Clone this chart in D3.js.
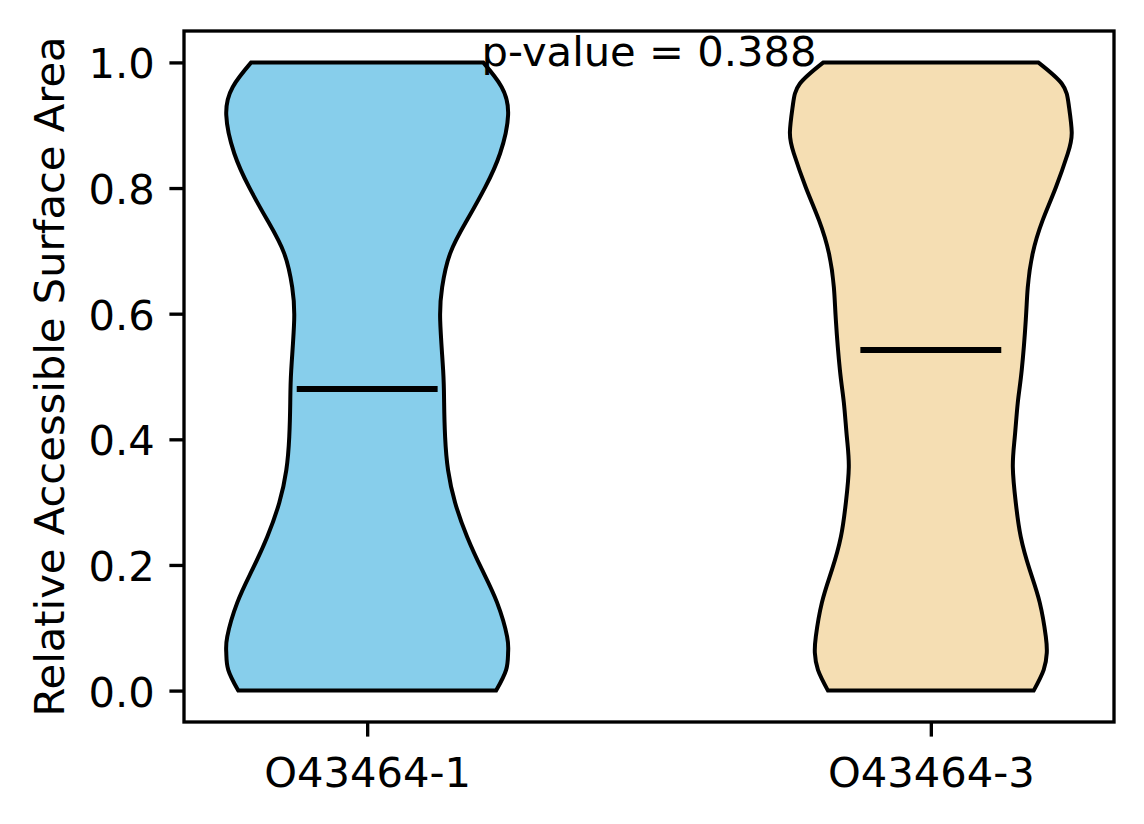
<!DOCTYPE html>
<html>
<head>
<meta charset="utf-8">
<script src="https://cdn.jsdelivr.net/npm/d3@7"></script>
<style>
  html, body { margin: 0; padding: 0; background: #ffffff; }
  svg { display: block; }
  text { font-family: "DejaVu Sans", sans-serif; fill: #000; }
</style>
</head>
<body>
<svg id="chart" width="1144" height="824"></svg>
<script>
// ---- data ----
const categories = ["O43464-1", "O43464-3"];
const positions = [1, 2];
const colors = ["#87CEEB", "#F5DEB3"];
const medians = [0.480, 0.542];
const pValueText = "p-value = 0.388";
const yTicks = [0.0, 0.2, 0.4, 0.6, 0.8, 1.0];
const yLabel = "Relative Accessible Surface Area";

// violin profiles: value along y, relative density (1 = widest)
const violin1Y = [0.000, 0.033, 0.060, 0.086, 0.140, 0.192, 0.245, 0.299, 0.351, 0.404, 0.458, 0.510, 0.590, 0.642, 0.696, 0.749, 0.801, 0.855, 0.916, 0.961, 1.000];
const violin1D = [0.915, 0.986, 1.000, 0.993, 0.922, 0.816, 0.709, 0.624, 0.574, 0.553, 0.546, 0.539, 0.518, 0.532, 0.589, 0.709, 0.837, 0.943, 1.000, 0.954, 0.823];
const violin2Y = [0.000, 0.033, 0.060, 0.086, 0.140, 0.192, 0.245, 0.299, 0.356, 0.404, 0.458, 0.510, 0.590, 0.642, 0.696, 0.749, 0.801, 0.855, 0.889, 0.932, 0.966, 1.000];
const violin2D = [0.730, 0.801, 0.823, 0.816, 0.773, 0.702, 0.638, 0.603, 0.582, 0.596, 0.617, 0.645, 0.674, 0.688, 0.723, 0.794, 0.887, 0.972, 1.000, 0.979, 0.930, 0.762];

const violins = [
  { ys: violin1Y, ds: violin1D },
  { ys: violin2Y, ds: violin2D }
];

// ---- layout ----
const FS = 41.67;
const plot = { left: 184, right: 1114, top: 31, bottom: 722 };
const svg = d3.select("#chart");
svg.append("rect").attr("width", 1144).attr("height", 824).attr("fill", "#fff");

const x = d3.scaleLinear().domain([0.675, 2.325]).range([plot.left, plot.right]);
const y = d3.scaleLinear().domain([-0.05, 1.05]).range([plot.bottom, plot.top]);
const halfWidth = 0.25; // in x units (widths = 0.5)

// violins
violins.forEach((v, i) => {
  const pts = v.ys.map((yy, k) => ({ y: yy, d: v.ds[k] }));
  const area = d3.area()
    .y(p => y(p.y))
    .x0(p => x(positions[i] - p.d * halfWidth))
    .x1(p => x(positions[i] + p.d * halfWidth))
    .curve(d3.curveNatural);
  svg.append("path")
    .attr("d", area(pts))
    .attr("fill", colors[i])
    .attr("stroke", "#000")
    .attr("stroke-width", 4)
    .attr("stroke-linejoin", "miter");
  // median line
  svg.append("line")
    .attr("x1", x(positions[i] - 0.125))
    .attr("x2", x(positions[i] + 0.125))
    .attr("y1", y(medians[i]))
    .attr("y2", y(medians[i]))
    .attr("stroke", "#000")
    .attr("stroke-width", 6);
});

// axes
const yAxis = d3.axisLeft(y).tickValues(yTicks).tickFormat(d3.format(".1f"))
  .tickSize(14.6).tickPadding(14.6).tickSizeOuter(0);
const gy = svg.append("g").attr("transform", `translate(${plot.left},0)`).call(yAxis);
gy.select(".domain").remove();
gy.selectAll(".tick line").attr("stroke", "#000").attr("stroke-width", 3.33);
gy.selectAll(".tick text").attr("font-size", FS).attr("font-family", "DejaVu Sans")
  .attr("dy", "0.37em").attr("fill", "#000");

const xAxis = d3.axisBottom(x).tickValues(positions).tickFormat((d, i) => categories[i])
  .tickSize(14.6).tickPadding(14.6).tickSizeOuter(0);
const gx = svg.append("g").attr("transform", `translate(0,${plot.bottom})`).call(xAxis);
gx.select(".domain").remove();
gx.selectAll(".tick line").attr("stroke", "#000").attr("stroke-width", 3.33);
gx.selectAll(".tick text").attr("font-size", FS).attr("font-family", "DejaVu Sans")
  .attr("dy", "0.85em").attr("fill", "#000");

// frame
svg.append("rect")
  .attr("x", plot.left).attr("y", plot.top)
  .attr("width", plot.right - plot.left).attr("height", plot.bottom - plot.top)
  .attr("fill", "none").attr("stroke", "#000").attr("stroke-width", 3.33);

// y label
svg.append("text")
  .attr("transform", `translate(63.5,${(plot.top + plot.bottom) / 2}) rotate(-90)`)
  .attr("text-anchor", "middle")
  .attr("font-size", FS)
  .text(yLabel);

// p-value
svg.append("text")
  .attr("x", (plot.left + plot.right) / 2)
  .attr("y", 65.5)
  .attr("text-anchor", "middle")
  .attr("font-size", FS)
  .text(pValueText);
</script>
</body>
</html>
